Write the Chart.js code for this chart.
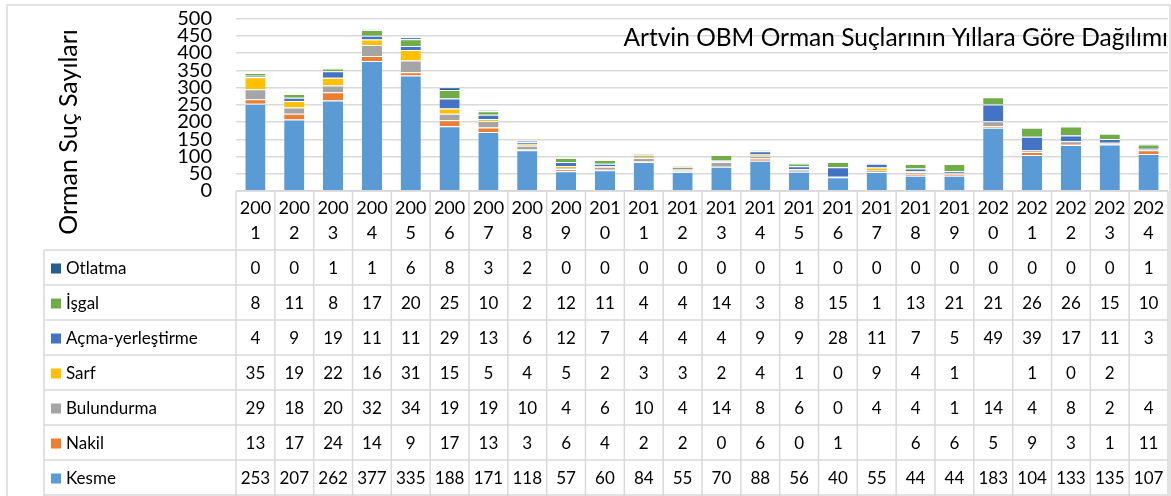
<!DOCTYPE html>
<html>
<head>
<meta charset="utf-8">
<script src="https://cdn.jsdelivr.net/npm/chart.js@4.4.1/dist/chart.umd.min.js"></script>
<style>
  body { margin: 0; background: #fff; }
</style>
</head>
<body>
<canvas id="chart" width="1171" height="496"></canvas>
<script>
const years = ['2001', '2002', '2003', '2004', '2005', '2006', '2007', '2008', '2009', '2010', '2011', '2012',
    '2013', '2014', '2015', '2016', '2017', '2018', '2019', '2020', '2021', '2022', '2023', '2024'];

// bottom of the stack first
const kesme = [253, 207, 262, 377, 335, 188, 171, 118, 57, 60, 84, 55, 70, 88, 56, 40, 55, 44, 44, 183, 104, 133, 135, 107];
const nakil = [13, 17, 24, 14, 9, 17, 13, 3, 6, 4, 2, 2, 0, 6, 0, 1, null, 6, 6, 5, 9, 3, 1, 11];
const bulundurma = [29, 18, 20, 32, 34, 19, 19, 10, 4, 6, 10, 4, 14, 8, 6, 0, 4, 4, 1, 14, 4, 8, 2, 4];
const sarf = [35, 19, 22, 16, 31, 15, 5, 4, 5, 2, 3, 3, 2, 4, 1, 0, 9, 4, 1, null, 1, 0, 2, null];
const acma = [4, 9, 19, 11, 11, 29, 13, 6, 12, 7, 4, 4, 4, 9, 9, 28, 11, 7, 5, 49, 39, 17, 11, 3];
const isgal = [8, 11, 8, 17, 20, 25, 10, 2, 12, 11, 4, 4, 14, 3, 8, 15, 1, 13, 21, 21, 26, 26, 15, 10];
const otlatma = [0, 0, 1, 1, 6, 8, 3, 2, 0, 0, 0, 0, 0, 0, 1, 0, 0, 0, 0, 0, 0, 0, 0, 1];

const yTicks = { min: 0, max: 500, step: 50 };
const chartTitle = 'Artvin OBM Orman Suçlarının Yıllara Göre Dağılımı';
const yTitle = 'Orman Suç Sayıları';

const FONT = 'Lato';
const LINE = '#d9d9d9';

function makeSet(label, data, color) {
    return {
        label,
        data,
        backgroundColor: color,
        borderColor: 'rgba(255,255,255,0.7)',
        borderWidth: {top: 1, left: 0, right: 0, bottom: 0},
        borderSkipped: false,
        barPercentage: 0.52,
        categoryPercentage: 1
    };
}

const datasets = [
    makeSet('Kesme', kesme, '#5b9bd5'),
    makeSet('Nakil', nakil, '#ed7d31'),
    makeSet('Bulundurma', bulundurma, '#a5a5a5'),
    makeSet('Sarf', sarf, '#ffc000'),
    makeSet('Açma-yerleştirme', acma, '#4472c4'),
    makeSet('İşgal', isgal, '#70ad47'),
    makeSet('Otlatma', otlatma, '#255e91')
];

// data table under the plot, drawn from the x scale
const tablePlugin = {
    id: 'dataTable',
    afterDraw(chart) {
        const {ctx, chartArea} = chart;
        const x = chart.scales.x;
        const w = (chartArea.right - chartArea.left) / years.length;
        const top = chartArea.bottom;
        const rowTop = 250;
        const rowH = 35;
        const keyLeft = 44;
        const rows = chart.data.datasets.slice().reverse();

        ctx.save();
        ctx.strokeStyle = LINE;
        ctx.lineWidth = 1.5;

        // outer border
        ctx.strokeRect(7, 5, 1163, 495);

        ctx.beginPath();
        ctx.moveTo(chartArea.left, top);
        ctx.lineTo(chartArea.right, top);
        for (let i = 0; i <= years.length; i++) {
            const px = i < years.length ? x.getPixelForValue(i) - w / 2 : x.getPixelForValue(i - 1) + w / 2;
            ctx.moveTo(px, top);
            ctx.lineTo(px, 496);
        }
        for (let r = 0; r <= rows.length; r++) {
            ctx.moveTo(keyLeft, rowTop + r * rowH);
            ctx.lineTo(chartArea.right, rowTop + r * rowH);
        }
        ctx.moveTo(keyLeft, rowTop);
        ctx.lineTo(keyLeft, 496);
        ctx.stroke();

        ctx.font = `17px ${FONT}`;
        ctx.textBaseline = 'middle';
        rows.forEach((ds, r) => {
            const cy = rowTop + r * rowH + rowH / 2 + 1;
            ctx.fillStyle = ds.backgroundColor;
            ctx.fillRect(51, cy - 5, 10, 10);
            ctx.fillStyle = '#000';
            ctx.textAlign = 'left';
            ctx.fillText(ds.label, 66, cy);
            ctx.textAlign = 'center';
            ds.data.forEach((v, i) => {
                if (v !== null) ctx.fillText(String(v), x.getPixelForValue(i), cy);
            });
        });

        // y axis title
        ctx.save();
        ctx.translate(77, 132);
        ctx.rotate(-Math.PI / 2);
        ctx.font = `25px ${FONT}`;
        ctx.textAlign = 'center';
        ctx.textBaseline = 'alphabetic';
        ctx.fillText(yTitle, 0, 0);
        ctx.restore();

        // chart title inside the plot
        ctx.font = `24.5px ${FONT}`;
        ctx.textAlign = 'right';
        ctx.textBaseline = 'alphabetic';
        ctx.fillText(chartTitle, chartArea.right, 46);
        ctx.restore();
    }
};

new Chart(document.getElementById('chart'), {
    type: 'bar',
    data: {
        labels: years.map(y => [y.slice(0, 3), y.slice(3)]),
        datasets
    },
    options: {
        responsive: false,
        devicePixelRatio: 1,
        animation: false,
        layout: {padding: {top: 18.5, right: 3, left: 0, bottom: 0}},
        plugins: {
            legend: {display: false},
            tooltip: {enabled: false}
        },
        scales: {
            x: {
                stacked: true,
                grid: {display: false},
                border: {display: false},
                ticks: {
                    color: '#000',
                    font: {family: FONT, size: 18, lineHeight: 1.39},
                    padding: -3,
                    maxRotation: 0,
                    autoSkip: false
                },
                afterFit(scale) {
                    scale.height = 305;
                    scale.paddingLeft = 0;
                    scale.paddingRight = 0;
                }
            },
            y: {
                stacked: true,
                min: yTicks.min,
                max: yTicks.max,
                grid: {color: LINE, lineWidth: 1.5, drawTicks: false},
                border: {display: false},
                ticks: {
                    stepSize: yTicks.step,
                    autoSkip: false,
                    color: '#000',
                    padding: 24,
                    font: {family: FONT, size: 20, lineHeight: 1}
                },
                afterFit(scale) {
                    scale.width = 236;
                    scale.paddingTop = 0;
                    scale.paddingBottom = 0;
                }
            }
        }
    },
    plugins: [tablePlugin]
});
</script>
</body>
</html>
